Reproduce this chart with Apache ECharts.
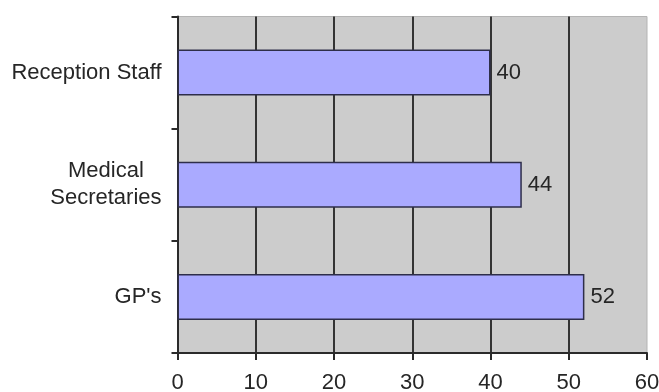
<!DOCTYPE html>
<html>
<head>
<meta charset="utf-8">
<script src="https://cdn.jsdelivr.net/npm/echarts@6/dist/echarts.min.js"></script>
<style>
  html, body { margin: 0; padding: 0; background: #ffffff; }
  #chart { width: 659px; height: 392px; }
</style>
</head>
<body>
<div id="chart"></div>
<script>
// Staff groups (top to bottom) and their values
const categories = ['Reception Staff', 'Medical\nSecretaries', "GP's"];
const values = [40, 44, 52];
const xTicks = [0, 10, 20, 30, 40, 50, 60];

const FONT = '"Liberation Sans", Arial, sans-serif';
const TEXT = '#262626';
const FS = 22;

const chart = echarts.init(document.getElementById('chart'), null, { renderer: 'canvas' });

chart.setOption({
  animation: false,
  backgroundColor: '#ffffff',
  grid: {
    left: 177.5, right: 12, top: 16.5, bottom: 39,
    outerBoundsMode: 'none',
    containLabel: false,
    show: true,
    backgroundColor: '#cccccc',
    borderColor: '#b4b4b4',
    borderWidth: 1
  },
  xAxis: {
    type: 'value',
    min: xTicks[0],
    max: xTicks[xTicks.length - 1],
    interval: 10,
    axisLine: { show: true, onZero: false, lineStyle: { color: '#2a2a2a', width: 2 } },
    axisTick: { show: true, length: 7, lineStyle: { color: '#2a2a2a', width: 2 } },
    axisLabel: {
      margin: 19,
      fontFamily: FONT,
      fontSize: FS,
      color: TEXT
    },
    splitLine: {
      show: true,
      showMinLine: false,
      showMaxLine: false,
      lineStyle: { color: '#333333', width: 2 }
    }
  },
  yAxis: {
    type: 'category',
    inverse: true,
    data: categories,
    axisLine: { show: true, lineStyle: { color: '#2a2a2a', width: 2 } },
    axisTick: { show: true, length: 6, alignWithLabel: false, lineStyle: { color: '#2a2a2a', width: 2 } },
    axisLabel: {
      margin: 16,
      fontFamily: FONT,
      fontSize: FS,
      color: TEXT,
      lineHeight: 27,
      formatter: function (v) {
        return v.split('\n').map(function (s) { return '{c|' + s + '}'; }).join('\n');
      },
      rich: {
        c: { align: 'center', fontFamily: FONT, fontSize: FS, color: TEXT, lineHeight: 27 }
      }
    },
    splitLine: { show: false }
  },
  series: [{
    type: 'bar',
    data: values,
    barWidth: '41%',
    itemStyle: {
      color: '#aaaaff',
      borderColor: '#2e2e4a',
      borderWidth: 1.5
    },
    label: {
      show: true,
      position: 'right',
      distance: 6,
      fontFamily: FONT,
      fontSize: FS,
      color: TEXT
    }
  }]
});
</script>
</body>
</html>
